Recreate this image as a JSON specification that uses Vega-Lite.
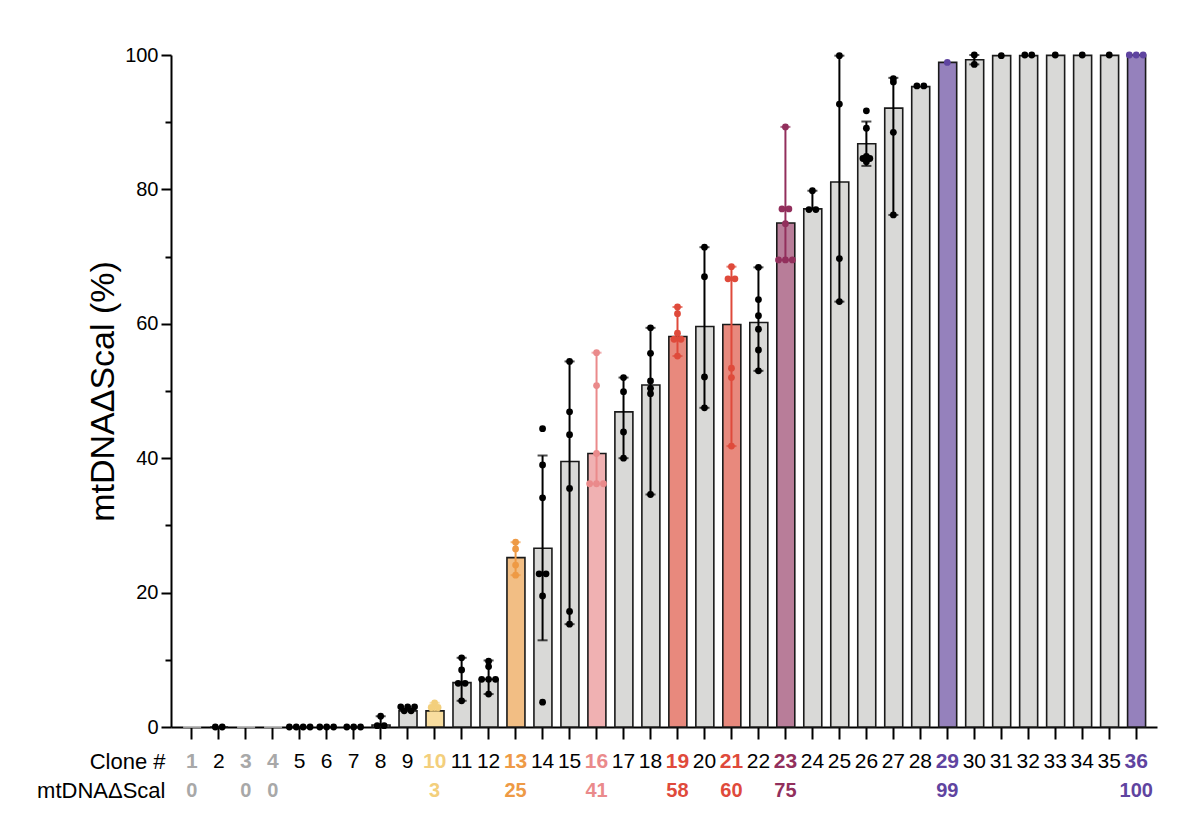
{
  "$schema": "https://vega.github.io/schema/vega-lite/v6.json",
  "width": 986,
  "height": 672,
  "autosize": {"type": "none"},
  "padding": {"left": 171, "top": 55, "right": 43, "bottom": 103},
  "background": "white",
  "config": {
    "view": {"stroke": null},
    "font": "Liberation Sans",
    "axis": {"labelFont": "Liberation Sans", "titleFont": "Liberation Sans", "grid": false}
  },
  "datasets": {
    "bars": [
      {"clone": 1, "group": "none", "mean": 0, "pct": "0"},
      {"clone": 2, "group": "normal", "mean": 0},
      {"clone": 3, "group": "none", "mean": 0, "pct": "0"},
      {"clone": 4, "group": "none", "mean": 0, "pct": "0"},
      {"clone": 5, "group": "normal", "mean": 0},
      {"clone": 6, "group": "normal", "mean": 0},
      {"clone": 7, "group": "normal", "mean": 0},
      {"clone": 8, "group": "normal", "mean": 0.3, "lo": 0.2, "hi": 1.6},
      {"clone": 9, "group": "normal", "mean": 2.4},
      {"clone": 10, "group": "yellow", "mean": 2.4, "lo": 2.4, "hi": 3.6, "pct": "3"},
      {"clone": 11, "group": "normal", "mean": 6.6, "lo": 3.9, "hi": 10.3},
      {"clone": 12, "group": "normal", "mean": 7.1, "lo": 4.9, "hi": 9.9},
      {"clone": 13, "group": "orange", "mean": 25.2, "lo": 22.6, "hi": 27.5, "pct": "25"},
      {"clone": 14, "group": "normal", "mean": 26.6, "lo": 12.9, "hi": 40.4},
      {"clone": 15, "group": "normal", "mean": 39.5, "lo": 15.3, "hi": 54.4},
      {"clone": 16, "group": "pink", "mean": 40.7, "lo": 36.2, "hi": 55.7, "pct": "41"},
      {"clone": 17, "group": "normal", "mean": 46.9, "lo": 40.0, "hi": 52.0},
      {"clone": 18, "group": "normal", "mean": 50.9, "lo": 34.6, "hi": 59.4},
      {"clone": 19, "group": "red", "mean": 58.1, "lo": 55.2, "hi": 62.5, "pct": "58"},
      {"clone": 20, "group": "normal", "mean": 59.6, "lo": 47.5, "hi": 71.4},
      {"clone": 21, "group": "red", "mean": 59.9, "lo": 41.8, "hi": 68.5, "pct": "60"},
      {"clone": 22, "group": "normal", "mean": 60.2, "lo": 53.0, "hi": 68.4},
      {"clone": 23, "group": "magenta", "mean": 75.0, "lo": 69.5, "hi": 89.3, "pct": "75"},
      {"clone": 24, "group": "normal", "mean": 77.1, "lo": 77.0, "hi": 79.8},
      {"clone": 25, "group": "normal", "mean": 81.1, "lo": 63.3, "hi": 99.9},
      {"clone": 26, "group": "normal", "mean": 86.8, "lo": 83.5, "hi": 90.1},
      {"clone": 27, "group": "normal", "mean": 92.1, "lo": 76.2, "hi": 96.6},
      {"clone": 28, "group": "normal", "mean": 95.3},
      {"clone": 29, "group": "purple", "mean": 98.9, "pct": "99"},
      {"clone": 30, "group": "normal", "mean": 99.3, "lo": 98.6, "hi": 100},
      {"clone": 31, "group": "normal", "mean": 99.9},
      {"clone": 32, "group": "normal", "mean": 99.9},
      {"clone": 33, "group": "normal", "mean": 99.95},
      {"clone": 34, "group": "normal", "mean": 99.95},
      {"clone": 35, "group": "normal", "mean": 99.95},
      {"clone": 36, "group": "purple", "mean": 100, "pct": "100"}
    ],
    "points": [
      {"clone": 2, "v": 0}, {"clone": 2, "v": 0},
      {"clone": 5, "v": 0}, {"clone": 5, "v": 0}, {"clone": 5, "v": 0}, {"clone": 5, "v": 0},
      {"clone": 6, "v": 0}, {"clone": 6, "v": 0}, {"clone": 6, "v": 0},
      {"clone": 7, "v": 0}, {"clone": 7, "v": 0}, {"clone": 7, "v": 0},
      {"clone": 8, "v": 1.6}, {"clone": 8, "v": 0.2}, {"clone": 8, "v": 0.2},
      {"clone": 9, "v": 3.0}, {"clone": 9, "v": 3.0}, {"clone": 9, "v": 3.0}, {"clone": 9, "v": 2.4}, {"clone": 9, "v": 2.4},
      {"clone": 10, "v": 3.6}, {"clone": 10, "v": 2.9}, {"clone": 10, "v": 2.9},
      {"clone": 11, "v": 10.3}, {"clone": 11, "v": 8.5}, {"clone": 11, "v": 6.5}, {"clone": 11, "v": 6.5}, {"clone": 11, "v": 3.9},
      {"clone": 12, "v": 9.8}, {"clone": 12, "v": 9.0}, {"clone": 12, "v": 7.1}, {"clone": 12, "v": 7.1}, {"clone": 12, "v": 7.1}, {"clone": 12, "v": 4.9},
      {"clone": 13, "v": 27.5}, {"clone": 13, "v": 26.5}, {"clone": 13, "v": 24.1}, {"clone": 13, "v": 22.6},
      {"clone": 14, "v": 44.4}, {"clone": 14, "v": 39.0}, {"clone": 14, "v": 34.1}, {"clone": 14, "v": 22.8}, {"clone": 14, "v": 22.8}, {"clone": 14, "v": 19.5}, {"clone": 14, "v": 3.7},
      {"clone": 15, "v": 54.4}, {"clone": 15, "v": 46.9}, {"clone": 15, "v": 43.5}, {"clone": 15, "v": 35.5}, {"clone": 15, "v": 17.2}, {"clone": 15, "v": 15.3},
      {"clone": 16, "v": 55.7}, {"clone": 16, "v": 50.8}, {"clone": 16, "v": 40.7}, {"clone": 16, "v": 36.2}, {"clone": 16, "v": 36.2}, {"clone": 16, "v": 36.2},
      {"clone": 17, "v": 52.0}, {"clone": 17, "v": 49.9}, {"clone": 17, "v": 43.9}, {"clone": 17, "v": 40.0},
      {"clone": 18, "v": 59.4}, {"clone": 18, "v": 55.6}, {"clone": 18, "v": 51.5}, {"clone": 18, "v": 50.4}, {"clone": 18, "v": 49.6}, {"clone": 18, "v": 34.6},
      {"clone": 19, "v": 62.5}, {"clone": 19, "v": 61.5}, {"clone": 19, "v": 58.6}, {"clone": 19, "v": 57.7}, {"clone": 19, "v": 57.7}, {"clone": 19, "v": 55.2},
      {"clone": 20, "v": 71.4}, {"clone": 20, "v": 67.0}, {"clone": 20, "v": 52.1}, {"clone": 20, "v": 47.5},
      {"clone": 21, "v": 68.5}, {"clone": 21, "v": 66.7}, {"clone": 21, "v": 66.7}, {"clone": 21, "v": 53.4}, {"clone": 21, "v": 52.0}, {"clone": 21, "v": 41.8},
      {"clone": 22, "v": 68.4}, {"clone": 22, "v": 63.6}, {"clone": 22, "v": 61.2}, {"clone": 22, "v": 59.2}, {"clone": 22, "v": 56.1}, {"clone": 22, "v": 53.0},
      {"clone": 23, "v": 89.3}, {"clone": 23, "v": 77.1}, {"clone": 23, "v": 77.1}, {"clone": 23, "v": 74.9}, {"clone": 23, "v": 69.5}, {"clone": 23, "v": 69.5}, {"clone": 23, "v": 69.5},
      {"clone": 24, "v": 79.8}, {"clone": 24, "v": 77.0}, {"clone": 24, "v": 77.0},
      {"clone": 25, "v": 99.9}, {"clone": 25, "v": 92.7}, {"clone": 25, "v": 69.7}, {"clone": 25, "v": 63.3},
      {"clone": 26, "v": 91.7}, {"clone": 26, "v": 89.1}, {"clone": 26, "v": 84.9}, {"clone": 26, "v": 84.6}, {"clone": 26, "v": 84.6}, {"clone": 26, "v": 84.1},
      {"clone": 27, "v": 96.5}, {"clone": 27, "v": 96.0}, {"clone": 27, "v": 88.5}, {"clone": 27, "v": 76.2},
      {"clone": 28, "v": 95.4}, {"clone": 28, "v": 95.4},
      {"clone": 29, "v": 98.9},
      {"clone": 30, "v": 100}, {"clone": 30, "v": 98.6},
      {"clone": 31, "v": 99.9},
      {"clone": 32, "v": 100}, {"clone": 32, "v": 100},
      {"clone": 33, "v": 100},
      {"clone": 34, "v": 100},
      {"clone": 35, "v": 100},
      {"clone": 36, "v": 100}, {"clone": 36, "v": 100}, {"clone": 36, "v": 100}
    ]
  },
  "layer": [
    {
      "data": {"name": "bars"},
      "mark": {"type": "bar", "strokeWidth": 1.6},
      "encoding": {
        "x": {
          "field": "clone", "type": "ordinal",
          "scale": {"paddingInner": 0.36, "paddingOuter": 0.45},
          "axis": {
            "labels": false, "ticks": true, "tickSize": 12, "tickWidth": 2, "tickColor": "#000",
            "domainWidth": 2, "domainColor": "#000",
            "title": ["Clone #", "mtDNAΔScal"],
            "titleX": -6, "titleY": 41, "titleAlign": "right", "titleBaseline": "alphabetic",
            "titleFontSize": 22, "titleFontWeight": "normal", "titleLineHeight": 29, "titleColor": "#000"
          }
        },
        "y": {
          "field": "mean", "type": "quantitative",
          "scale": {"domain": [0, 100], "nice": false},
          "axis": {
            "values": [0, 10, 20, 30, 40, 50, 60, 70, 80, 90, 100],
            "labelExpr": "datum.value % 20 === 0 ? datum.label : ''",
            "tickSize": {"condition": {"test": "datum.value % 20 !== 0", "value": 6}, "value": 10},
            "tickWidth": 2, "tickColor": "#000", "domainWidth": 2, "domainColor": "#000",
            "labelFontSize": 20, "labelColor": "#000", "labelPadding": 3,
            "title": "mtDNAΔScal (%)", "titleFontSize": 34, "titleFontWeight": "normal",
            "titleColor": "#000", "titlePadding": 4
          }
        },
        "fill": {
          "field": "group", "type": "nominal", "legend": null,
          "scale": {
            "domain": ["none", "normal", "yellow", "orange", "pink", "red", "magenta", "purple"],
            "range": ["#d4d4d4", "#d9d9d7", "#f8dd9f", "#f2be84", "#f0b1b2", "#e8897d", "#b87d99", "#9581bc"]
          }
        },
        "stroke": {
          "field": "group", "type": "nominal", "legend": null,
          "scale": {
            "domain": ["none", "normal", "yellow", "orange", "pink", "red", "magenta", "purple"],
            "range": ["#d0d0d0", "#1a1a1a", "#1a1a1a", "#1a1a1a", "#1a1a1a", "#1a1a1a", "#1a1a1a", "#1a1a1a"]
          }
        }
      }
    },
    {
      "data": {"name": "bars"},
      "transform": [{"filter": "isValid(datum.lo)"}],
      "mark": {"type": "rule", "strokeWidth": 2},
      "encoding": {
        "x": {"field": "clone", "type": "ordinal"},
        "y": {"field": "lo", "type": "quantitative"},
        "y2": {"field": "hi"},
        "color": {"field": "group", "type": "nominal", "legend": null,
          "scale": {"domain": ["none", "normal", "yellow", "orange", "pink", "red", "magenta", "purple"],
            "range": ["#a8a8a8", "#000000", "#f3cf7c", "#ee9a45", "#ea8a8b", "#df4a3b", "#922f5c", "#5f44a0"]}}
      }
    },
    {
      "data": {"name": "bars"},
      "transform": [{"filter": "isValid(datum.lo)"}],
      "mark": {"type": "tick", "size": 10, "thickness": 2},
      "encoding": {
        "x": {"field": "clone", "type": "ordinal"},
        "y": {"field": "lo", "type": "quantitative"},
        "color": {"field": "group", "type": "nominal", "legend": null}
      }
    },
    {
      "data": {"name": "bars"},
      "transform": [{"filter": "isValid(datum.hi)"}],
      "mark": {"type": "tick", "size": 10, "thickness": 2},
      "encoding": {
        "x": {"field": "clone", "type": "ordinal"},
        "y": {"field": "hi", "type": "quantitative"},
        "color": {"field": "group", "type": "nominal", "legend": null}
      }
    },
    {
      "data": {"name": "points"},
      "transform": [
        {"lookup": "clone", "from": {"data": {"name": "bars"}, "key": "clone", "fields": ["group"]}},
        {"window": [{"op": "row_number", "as": "k"}, {"op": "count", "as": "n"}], "groupby": ["clone", "v"], "frame": [null, null]},
        {"calculate": "datum.k - (datum.n + 1) / 2", "as": "off"}
      ],
      "mark": {"type": "circle", "size": 46, "opacity": 1},
      "encoding": {
        "x": {"field": "clone", "type": "ordinal"},
        "xOffset": {"field": "off", "type": "quantitative", "scale": {"domain": [-1.25, 1.25]}},
        "y": {"field": "v", "type": "quantitative"},
        "color": {"field": "group", "type": "nominal", "legend": null}
      }
    },
    {
      "data": {"name": "bars"},
      "transform": [{"filter": "datum.group === 'normal'"}],
      "mark": {"type": "text", "dy": 41, "baseline": "alphabetic", "fontSize": 21, "font": "Liberation Sans", "fill": "#000"},
      "encoding": {
        "x": {"field": "clone", "type": "ordinal"},
        "y": {"datum": 0, "type": "quantitative"},
        "text": {"field": "clone", "type": "ordinal"}
      }
    },
    {
      "data": {"name": "bars"},
      "transform": [{"filter": "datum.group !== 'normal'"}],
      "mark": {"type": "text", "dy": 41, "baseline": "alphabetic", "fontSize": 21, "fontWeight": "bold", "font": "Liberation Sans"},
      "encoding": {
        "x": {"field": "clone", "type": "ordinal"},
        "y": {"datum": 0, "type": "quantitative"},
        "text": {"field": "clone", "type": "ordinal"},
        "color": {"field": "group", "type": "nominal", "legend": null}
      }
    },
    {
      "data": {"name": "bars"},
      "transform": [{"filter": "isValid(datum.pct)"}],
      "mark": {"type": "text", "dy": 70, "baseline": "alphabetic", "fontSize": 20, "fontWeight": "bold", "font": "Liberation Sans"},
      "encoding": {
        "x": {"field": "clone", "type": "ordinal"},
        "y": {"datum": 0, "type": "quantitative"},
        "text": {"field": "pct", "type": "nominal"},
        "color": {"field": "group", "type": "nominal", "legend": null}
      }
    }
  ]
}
